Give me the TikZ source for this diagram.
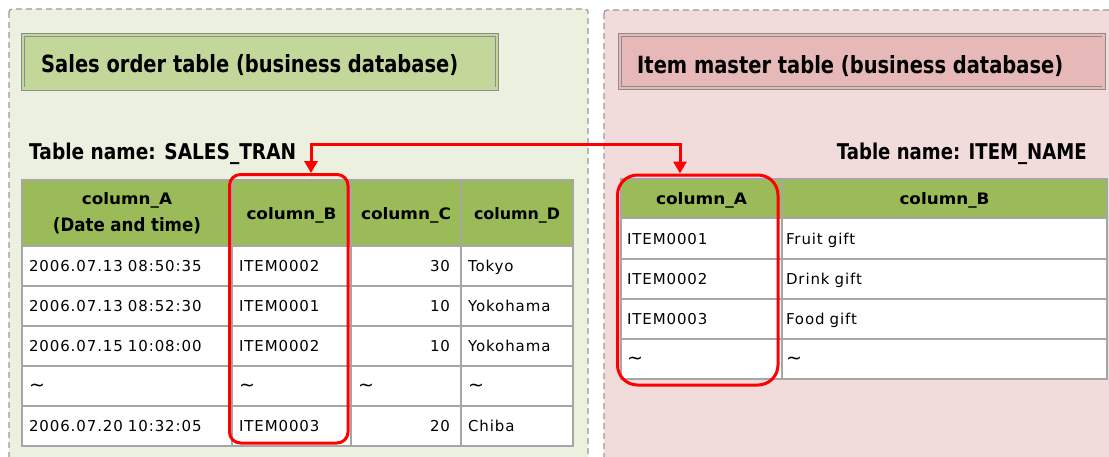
\documentclass[tikz,border=0pt]{standalone}
\usepackage{fontspec}
\usepackage{graphicx}
\setmainfont{DejaVu Sans}
\newfontfamily\datafamily[LetterSpace=6]{DejaVu Sans}
\usetikzlibrary{arrows.meta}

\definecolor{leftbg}{HTML}{EBF1DE}
\definecolor{rightbg}{HTML}{F2DCDB}
\definecolor{lefthead}{HTML}{C4D79B}
\definecolor{righthead}{HTML}{E6B8B7}
\definecolor{colhead}{HTML}{9BBB59}
\definecolor{gridgray}{HTML}{A6A6A6}
\definecolor{framegray}{HTML}{8C8C8C}
\definecolor{dashgray}{HTML}{999999}
\definecolor{linkred}{HTML}{FF0000}

\newcommand\datafont{\datafamily\fontsize{15pt}{18pt}\selectfont}
\newcommand\wave{{\fontsize{19pt}{19pt}\selectfont\textasciitilde}}

\tikzset{
  panel/.style={draw=dashgray, line width=1.2pt, dash pattern=on 6pt off 4pt, rounded corners=3pt},
  titlebar/.style={draw=framegray, line width=0.9pt, double distance=2.4pt, anchor=north west, inner sep=0pt, outer sep=0pt},
  caption/.style={inner sep=0pt, font=\bfseries},
  cell/.style={draw=gridgray, line width=1.5pt, fill=white, anchor=north west, inner xsep=7pt, inner ysep=0pt, outer sep=0pt,
    minimum height=40pt, font=\datafont, align=left, text height=11pt, text depth=0pt},
  numcell/.style={cell, inner xsep=11pt, align=right},
  hcell/.style={draw=gridgray, line width=1.5pt, fill=colhead, anchor=north west, inner ysep=0pt, inner xsep=4pt, outer sep=0pt,
    align=center, font=\bfseries\fontsize{14pt}{27pt}\selectfont},
  hcellone/.style={hcell, text height=12pt, text depth=0pt},
  keybox/.style={draw=linkred, line width=3pt, anchor=north west, inner sep=0pt},
  link/.style={draw=linkred, line width=3pt, {Triangle[width=13pt,length=12pt]}-{Triangle[width=13pt,length=12pt]}},
}

\begin{document}
\begin{tikzpicture}[x=1pt,y=-1pt]
\useasboundingbox (0,0) rectangle (1109,456);
\clip (0,0) rectangle (1109,456);

% dashed panels
\draw[panel, fill=leftbg] (9,9) rectangle (588,475);
\draw[panel, fill=rightbg] (604,10) rectangle (1130,475);

% title bars
\node[titlebar, fill=lefthead, double=lefthead, minimum width=474.4pt, minimum height=53.8pt] (salesbar) at (22.8,34.8) {};
\node[titlebar, fill=righthead, double=righthead, minimum width=483.8pt, minimum height=53.1pt] (itembar) at (619.8,34.8) {};
\node[caption, anchor=base west] (salestitle) at (41,72.7) {\resizebox{417pt}{18pt}{Sales order table (business database)}};
\node[caption, anchor=base west] (itemtitle) at (637,73) {\resizebox{426pt}{18pt}{Item master table (business database)}};

% table names
\node[caption, anchor=base west] (salesname) at (29,159.3) {\resizebox{267pt}{16.5pt}{Table name: SALES\_TRAN}};
\node[caption, anchor=base east] (itemname) at (1087,159.3) {\resizebox{250pt}{16.5pt}{Table name: ITEM\_NAME}};

% SALES_TRAN header
\node[hcell, minimum height=66pt, text width=202pt] (sA) at (22,180)
  {\resizebox{90pt}{12pt}{column\_A}\\\resizebox{148pt}{14pt}{(Date and time)}};
\node[hcellone, minimum height=66pt, text width=111pt] (sB) at (232,180) {\resizebox{90pt}{12pt}{column\_B}};
\node[hcellone, minimum height=66pt, text width=102pt] (sC) at (351,180) {\resizebox{90pt}{12pt}{column\_C}};
\node[hcellone, minimum height=66pt, text width=104pt] (sD) at (461,180) {\resizebox{86pt}{12pt}{column\_D}};

% SALES_TRAN rows
\node[cell, text width=196pt] (s1A) at (22,246) {2006.07.13 08:50:35};
\node[cell, text width=105pt] (s1B) at (232,246) {ITEM0002};
\node[numcell, text width=88pt] (s1C) at (351,246) {30};
\node[cell, text width=98pt] (s1D) at (461,246) {Tokyo};

\node[cell, text width=196pt] (s2A) at (22,286) {2006.07.13 08:52:30};
\node[cell, text width=105pt] (s2B) at (232,286) {ITEM0001};
\node[numcell, text width=88pt] (s2C) at (351,286) {10};
\node[cell, text width=98pt] (s2D) at (461,286) {Yokohama};

\node[cell, text width=196pt] (s3A) at (22,326) {2006.07.15 10:08:00};
\node[cell, text width=105pt] (s3B) at (232,326) {ITEM0002};
\node[numcell, text width=88pt] (s3C) at (351,326) {10};
\node[cell, text width=98pt] (s3D) at (461,326) {Yokohama};

\node[cell, text width=196pt] (s4A) at (22,366) {\wave};
\node[cell, text width=105pt] (s4B) at (232,366) {\wave};
\node[cell, text width=96pt] (s4C) at (351,366) {\wave};
\node[cell, text width=98pt] (s4D) at (461,366) {\wave};

\node[cell, text width=196pt] (s5A) at (22,406) {2006.07.20 10:32:05};
\node[cell, text width=105pt] (s5B) at (232,406) {ITEM0003};
\node[numcell, text width=88pt] (s5C) at (351,406) {20};
\node[cell, text width=98pt] (s5D) at (461,406) {Chiba};

% ITEM_NAME header
\node[hcellone, minimum height=39pt, text width=153pt] (iA) at (621,179) {\resizebox{91pt}{12pt}{column\_A}};
\node[hcellone, minimum height=39pt, text width=317pt] (iB) at (782,179) {\resizebox{90pt}{12pt}{column\_B}};

% ITEM_NAME rows
\node[cell, inner xsep=6pt, text width=149pt, minimum height=41pt] (i1A) at (621,218) {ITEM0001};
\node[cell, inner xsep=4pt, text width=317pt, minimum height=41pt] (i1B) at (782,218) {Fruit gift};
\node[cell, inner xsep=6pt, text width=149pt] (i2A) at (621,259) {ITEM0002};
\node[cell, inner xsep=4pt, text width=317pt] (i2B) at (782,259) {Drink gift};
\node[cell, inner xsep=6pt, text width=149pt] (i3A) at (621,299) {ITEM0003};
\node[cell, inner xsep=4pt, text width=317pt] (i3B) at (782,299) {Food gift};
\node[cell, inner xsep=6pt, text width=149pt] (i4A) at (621,339) {\wave};
\node[cell, inner xsep=4pt, text width=317pt] (i4B) at (782,339) {\wave};

% key columns
\node[keybox, rounded corners=11pt, minimum width=118.5pt, minimum height=268.5pt] (keyB) at (228,173) {};
\node[keybox, rounded corners=20pt, minimum width=160.5pt, minimum height=210pt] (keyA) at (616,173.5) {};

% join between the key columns
\coordinate (jl) at (311,144);
\coordinate (jr) at (680,144);
\draw[link] (jl |- keyB.north) -- (jl) -- (jr) -- (jr |- keyA.north);
\end{tikzpicture}
\end{document}
